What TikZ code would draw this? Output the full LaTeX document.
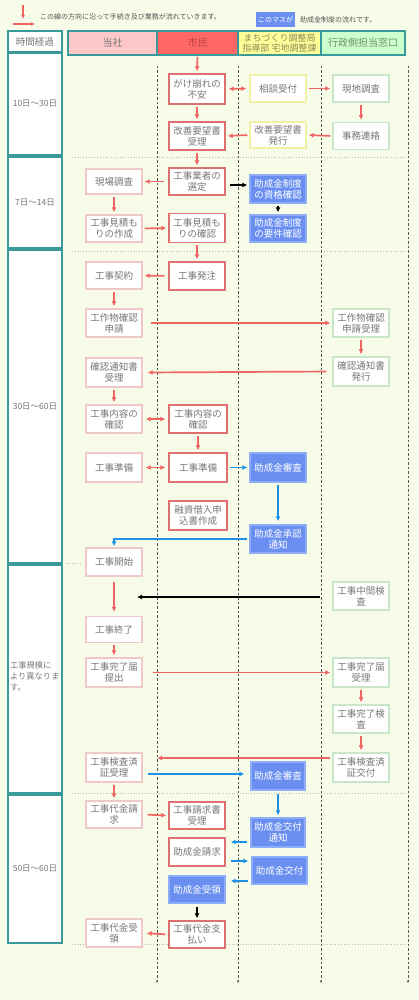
\documentclass[tikz,border=0pt]{standalone}
\usepackage{fontspec}
\setmainfont{Noto Sans CJK JP}
\usetikzlibrary{arrows.meta,calc}
\definecolor{bgc}{HTML}{F6FCE8}
\definecolor{teal}{HTML}{3A9A9A}
\definecolor{txtgray}{HTML}{777777}
\definecolor{pinkb}{HTML}{F0C8C8}
\definecolor{redb}{HTML}{E07070}
\definecolor{yelb}{HTML}{F0F0A8}
\definecolor{grnb}{HTML}{C8E6C8}
\definecolor{bluef}{HTML}{6A8FF0}
\definecolor{bluebd}{HTML}{8FAEF8}
\definecolor{redarr}{HTML}{F06464}
\definecolor{bluearr}{HTML}{1E90E8}
\definecolor{hpink}{HTML}{FFC8C8}
\definecolor{hred}{HTML}{FF6666}
\definecolor{hyel}{HTML}{FFFF99}
\definecolor{hgrn}{HTML}{CCFFCC}
\definecolor{dashc}{HTML}{555555}
\definecolor{sepc}{HTML}{BBBBBB}
\begin{document}
\begin{tikzpicture}[x=1pt,y=-1pt,
  box/.style={rectangle, draw, line width=1.3pt, fill=white, minimum width=56pt,
    minimum height=28pt, inner sep=0pt, align=center,
    font=\fontsize{9.5}{11}\selectfont, text=txtgray},
  cbox/.style={box, draw=pinkb},
  sbox/.style={box, draw=redb},
  ybox/.style={box, draw=yelb},
  gbox/.style={box, draw=grnb},
  bbox/.style={box, draw=bluebd, fill=bluef, text=white},
  tbox/.style={rectangle, draw=teal, line width=1.5pt, fill=white, minimum width=54pt,
    inner sep=0pt, align=center, font=\fontsize{8.5}{11}\selectfont, text=txtgray},
  hcell/.style={rectangle, draw=teal, line width=1.5pt, minimum height=24pt,
    inner sep=0pt, align=center, font=\fontsize{10}{11}\selectfont},
  tip/.style={-{Latex[length=5pt,width=5pt]}},
  dtip/.style={{Latex[length=5pt,width=5pt]}-{Latex[length=5pt,width=5pt]}},
  ra/.style={draw=redarr, line width=1.7pt, tip, shorten <=2pt, shorten >=2pt},
  rda/.style={draw=redarr, line width=1.7pt, dtip, shorten <=3pt, shorten >=3pt},
  ba/.style={draw=bluearr, line width=1.7pt, tip, shorten <=2pt, shorten >=2pt},
  ka/.style={draw=black, line width=1.7pt, tip, shorten <=2pt, shorten >=2pt},
  vdash/.style={draw=dashc, line width=0.7pt, dash pattern=on 2.5pt off 2pt,
    -{Latex[length=2.5pt,width=2.5pt]}},
  sep/.style={draw=sepc, line width=0.8pt, dotted}
]
\fill[bgc] (0,0) rectangle (418,1000);
\useasboundingbox (0,0) rectangle (418,1000);

% legend
\coordinate (lv1) at (23,5);
\coordinate (lv2) at (23,19);
\coordinate (lh1) at (13,24);
\coordinate (lh2) at (35,24);
\draw[draw=redarr, line width=1.3pt, -{Latex[length=4pt,width=4pt]}] (lv1) -- (lv2);
\draw[draw=redarr, line width=1.3pt, -{Latex[length=4pt,width=4pt]}] (lh1) -- (lh2);
\node[anchor=west, font=\fontsize{7}{8}\selectfont, text=dashc, inner sep=0pt] (legtxt) at (40,17) {この線の方向に沿って手続き及び業務が流れていきます。};
\node[fill=bluef, text=white, minimum width=39pt, minimum height=15pt, inner sep=0pt, font=\fontsize{7}{8}\selectfont] (legbox) at (275.5,19.5) {このマスが};
\node[anchor=west, font=\fontsize{7}{8}\selectfont, text=dashc, inner sep=0pt] (legtxt2) at (300,19.5) {助成金制度の流れです。};

% header
\node[tbox, minimum height=21pt, font=\fontsize{9.5}{11}\selectfont] (t0) at (35,41.5) {時間経過};
\node[hcell, fill=hpink, minimum width=89pt, text=txtgray] (h1) at (112.5,43) {当社};
\node[hcell, fill=hred, minimum width=81pt, text={rgb,255:red,190;green,70;blue,70}] (h2) at (197.5,43) {市民};
\node[hcell, fill=hyel, minimum width=83pt, text={rgb,255:red,140;green,140;blue,90}, font=\fontsize{9}{10.5}\selectfont] (h3) at (279.5,43) {まちづくり調整局\\指導部 宅地調整課};
\node[hcell, fill=hgrn, minimum width=84pt, text={rgb,255:red,110;green,140;blue,110}] (h4) at (363,43) {行政側担当窓口};

% time column
\node[tbox, minimum height=102pt] (t1) at (35,104) {10日～30日};
\node[tbox, minimum height=91pt] (t2) at (35,202.5) {7日～14日};
\node[tbox, minimum height=313pt] (t3) at (35,406.5) {30日～60日};
\node[tbox, minimum height=228pt] (t4) at (35,679) {};
\node[anchor=west, align=left, inner sep=0pt, font=\fontsize{8.2}{11}\selectfont, text=txtgray] (t4txt) at (10,676) {工事規模に\\より異なりま\\す。};
\node[tbox, minimum height=148pt] (t5) at (35,869) {50日～60日};

% separators
\draw[sep] (72,157) -- (407,157);
\draw[sep] (72,251) -- (407,251);
\draw[sep] (66,563) -- (82,563);
\draw[sep] (72,793) -- (407,793);
\draw[sep] (72,944) -- (407,944);

% vertical dashed lanes
\foreach \xx in {157,238,321,408} {\draw[vdash] (\xx,66) -- (\xx,983);}

% nodes
\node[sbox, minimum height=30pt] (a1) at (197,89) {がけ崩れの\\不安};
\node[ybox, minimum height=27pt] (a2) at (278,88.5) {相談受付};
\node[gbox, minimum height=27pt] (a3) at (361,88.5) {現地調査};
\node[sbox] (b1) at (197,136) {改善要望書\\受理};
\node[ybox, minimum height=26pt] (b2) at (278,135) {改善要望書\\発行};
\node[gbox, minimum height=27pt] (b3) at (361,136) {事務連絡};
\node[cbox, minimum height=25pt] (c0) at (114,181.5) {現場調査};
\node[sbox, minimum height=27pt] (c1) at (197,181.5) {工事業者の\\選定};
\node[bbox] (c2) at (278,189) {助成金制度\\の資格確認};
\node[cbox, minimum height=27pt] (d0) at (114,228.5) {工事見積も\\りの作成};
\node[sbox, minimum height=29pt] (d1) at (197,228) {工事見積も\\りの確認};
\node[bbox, minimum height=27pt] (d2) at (278,228.5) {助成金制度\\の要件確認};
\node[cbox, minimum height=27pt] (e0) at (114,275.5) {工事契約};
\node[sbox] (e1) at (197,276) {工事発注};
\node[cbox] (f0) at (114,323) {工作物確認\\申請};
\node[gbox] (f3) at (361,323) {工作物確認\\申請受理};
\node[cbox, minimum height=29pt] (g0) at (114,372.5) {確認通知書\\受理};
\node[gbox, minimum height=29pt] (g3) at (361,371.5) {確認通知書\\発行};
\node[cbox] (h0) at (114,419) {工事内容の\\確認};
\node[sbox, minimum width=58pt] (h1n) at (198,419) {工事内容の\\確認};
\node[cbox, minimum height=29pt] (i0) at (114,467.5) {工事準備};
\node[sbox, minimum width=58pt, minimum height=29pt] (i1) at (198,467.5) {工事準備};
\node[bbox, minimum height=29pt] (i2) at (278,467.5) {助成金審査};
\node[sbox, minimum width=58pt, minimum height=29pt] (j1) at (198,515.5) {融資借入申\\込書作成};
\node[bbox] (j2) at (278,539) {助成金承認\\通知};
\node[cbox] (k0) at (114,562) {工事開始};
\node[gbox] (k3) at (361,596) {工事中間検\\査};
\node[cbox, minimum height=26pt] (l0) at (114,629.5) {工事終了};
\node[cbox, minimum height=29pt] (m0) at (114,672.5) {工事完了届\\提出};
\node[gbox, minimum height=29pt] (m3) at (361,672.5) {工事完了届\\受理};
\node[gbox] (n3) at (361,719) {工事完了検\\査};
\node[cbox, minimum height=29pt] (o0) at (114,767.5) {工事検査済\\証受理};
\node[gbox, minimum height=29pt] (o3) at (361,767.5) {工事検査済\\証交付};
\node[bbox, minimum width=54pt] (o2) at (278,776) {助成金審査};
\node[cbox, minimum height=27pt] (p0) at (114,814.5) {工事代金請\\求};
\node[sbox, minimum height=27pt] (p1) at (197,815.5) {工事請求書\\受理};
\node[bbox, minimum width=54pt, minimum height=29pt] (p2) at (278,832.5) {助成金交付\\通知};
\node[sbox] (q1) at (197,852) {助成金請求};
\node[bbox, minimum width=55pt, minimum height=27pt] (q2) at (279.5,870.5) {助成金交付};
\node[bbox, minimum height=27pt] (r1) at (197,889.5) {助成金受領};
\node[cbox] (s0) at (114,933) {工事代金受\\領};
\node[sbox, minimum height=27pt] (s1) at (197,934.5) {工事代金支\\払い};

% helper coordinates
\coordinate (kend) at (137,597);
\coordinate (oend) at (157,758);

% connectors
\draw[ra, shorten <=1pt] (h2.south) -- (a1.north);
\draw[rda] (a1.east) -- (a2.west);
\draw[ra] (a2.east) -- (a3.west);
\draw[ra] (a3.south) -- (b3.north);
\draw[ra] (b3.west) -- (b2.east);
\draw[ra] (b2.west) -- (b1.east);
\draw[ra] (a1.south) -- (b1.north);
\draw[ra] (b1.south) -- (c1.north);
\draw[ra, shorten <=4pt] (c1.west) -- (c0.east);
\draw[ka, shorten <=4pt] (c1.east |- 0,185) -- (c2.west |- 0,185);
\draw[ka] (c2.south) -- (d2.north);
\draw[ra] (c0.south) -- (d0.north);
\draw[ra] (d0.east) -- (d1.west);
\draw[ra] (d1.south) -- (e1.north);
\draw[ra, shorten <=4pt] (e1.west) -- (e0.east);
\draw[ra] (e0.south) -- (f0.north);
\draw[ra, shorten <=8pt] (f0.east) -- (f3.west);
\draw[ra] (f3.south) -- (g3.north);
\draw[ra, shorten <=6pt, shorten >=5pt] (g3.west) -- (g0.east);
\draw[ra] (g0.south) -- (h0.north);
\draw[rda] (h0.east) -- (h1n.west);
\draw[ra] (h1n.south) -- (i1.north);
\draw[rda] (i0.east) -- (i1.west);
\draw[ba] (i1.east) -- (i2.west);
\draw[ba, shorten >=3pt] (i2.south) -- (j2.north);
\draw[ba, shorten >=1pt] (j2.west) -| (k0.north);
\draw[ra, shorten <=5pt, shorten >=4pt] (k0.south) -- (l0.north);
\draw[ka, shorten <=12pt, shorten >=0pt] (k3.west |- kend) -- (kend);
\draw[ra] (l0.south) -- (m0.north);
\draw[ra, shorten <=10pt] (m0.east) -- (m3.west);
\draw[ra] (m3.south) -- (n3.north);
\draw[ra] (n3.south) -- (o3.north);
\draw[ra, shorten >=0pt] (o3.west |- oend) -- (oend);
\draw[ba, shorten <=5pt, shorten >=6pt] (o0.east |- 0,774) -- (o2.west |- 0,774);
\draw[ra] (o0.south) -- (p0.north);
\draw[ra, shorten <=5pt] (p0.east) -- (p1.west);
\draw[ba, shorten <=3pt] (o2.south) -- (p2.north);
\draw[ba, shorten <=3pt, shorten >=5pt] (p2.west |- 0,842) -- (q1.east |- 0,842);
\draw[ba, shorten <=5pt, shorten >=3pt] (q1.east |- 0,861) -- (q2.west |- 0,861);
\draw[ba, shorten <=3pt, shorten >=5pt] (q2.west |- 0,881) -- (r1.east |- 0,881);
\draw[ka, shorten <=3pt] (r1.south) -- (s1.north);
\draw[ra, shorten <=3pt, shorten >=4pt] (s1.west) -- (s0.east);
\end{tikzpicture}
\end{document}
